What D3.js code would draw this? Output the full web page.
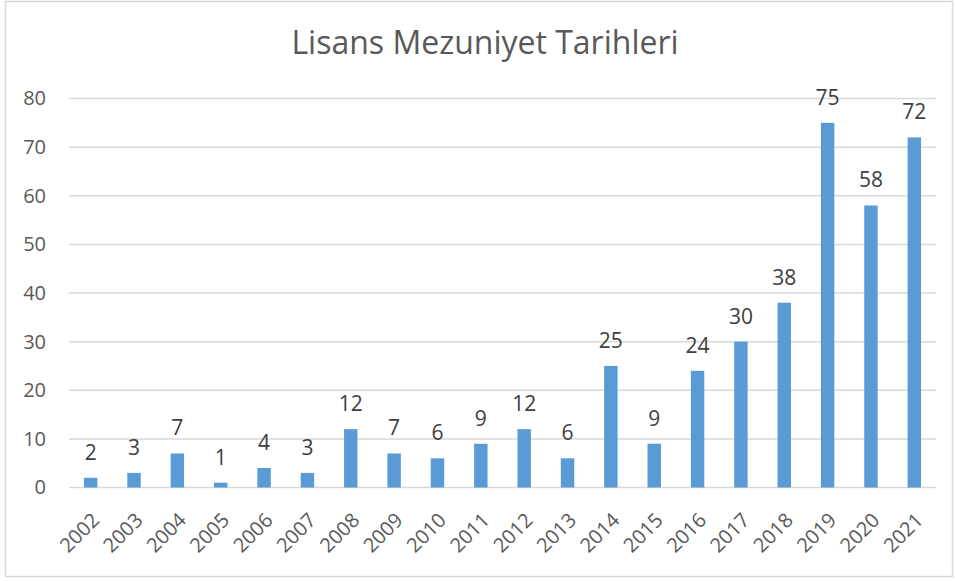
<!DOCTYPE html>
<html>
<head>
<meta charset="utf-8">
<script src="https://cdn.jsdelivr.net/npm/d3@7"></script>
<style>
  body { margin: 0; background: #fff; }
  text { font-family: "Open Sans", "Noto Sans", sans-serif; }
</style>
</head>
<body>
<div id="chart"></div>
<script>
// veriler
const years = ["2002","2003","2004","2005","2006","2007","2008","2009","2010","2011",
               "2012","2013","2014","2015","2016","2017","2018","2019","2020","2021"];
const counts = [2, 3, 7, 1, 4, 3, 12, 7, 6, 9, 12, 6, 25, 9, 24, 30, 38, 75, 58, 72];
const yTicks = [0, 10, 20, 30, 40, 50, 60, 70, 80];
const title = "Lisans Mezuniyet Tarihleri";

const W = 955, H = 581;
const margin = {top: 98.5, right: 19, bottom: 93.5, left: 69};
const width = W - margin.left - margin.right;
const height = H - margin.top - margin.bottom;

const svg = d3.select("#chart").append("svg")
    .attr("width", W)
    .attr("height", H);

// dış çerçeve
svg.append("rect")
    .attr("x", 5.5).attr("y", 1.5)
    .attr("width", W - 8).attr("height", H - 6)
    .attr("fill", "#fff")
    .attr("stroke", "#d9d9d9")
    .attr("stroke-width", 1.5);

// başlık
svg.append("text")
    .attr("x", 485)
    .attr("y", 54)
    .attr("text-anchor", "middle")
    .style("font-size", "32px")
    .style("fill", "#595959")
    .text(title);

const g = svg.append("g")
    .attr("transform", `translate(${margin.left},${margin.top})`);

const x = d3.scaleBand().domain(years).range([0, width]).paddingInner(0.69).paddingOuter(0.345);
const y = d3.scaleLinear().domain([0, 80]).range([height, 0]);

// yatay çizgiler
g.selectAll(".grid")
    .data(yTicks)
    .enter().append("line")
    .attr("x1", 0).attr("x2", width)
    .attr("y1", d => y(d)).attr("y2", d => y(d))
    .attr("stroke", "#d9d9d9")
    .attr("stroke-width", 1.5);

// y ekseni
const yAxis = g.append("g")
    .call(d3.axisLeft(y).tickValues(yTicks).tickSize(0).tickPadding(23));
yAxis.select(".domain").remove();
yAxis.selectAll("text")
    .style("font-size", "20px")
    .style("font-family", "'Open Sans', sans-serif")
    .style("fill", "#595959");

// x ekseni
const xAxis = g.append("g")
    .attr("transform", `translate(0,${height})`)
    .call(d3.axisBottom(x).tickSize(0));
xAxis.select(".domain").remove();
xAxis.selectAll("text")
    .style("font-size", "20px")
    .style("font-family", "'Open Sans', sans-serif")
    .style("fill", "#595959")
    .attr("text-anchor", "end")
    .attr("dy", "0.35em")
    .attr("transform", "translate(5,29) rotate(-45)")
    .attr("x", 0).attr("y", 0);

// çubuklar
g.selectAll(".bar")
    .data(counts)
    .enter().append("rect")
    .attr("class", "bar")
    .attr("x", (d, i) => x(years[i]))
    .attr("width", x.bandwidth())
    .attr("y", d => y(d))
    .attr("height", d => height - y(d))
    .attr("fill", "#5b9bd5");

// değer etiketleri
g.selectAll(".lbl")
    .data(counts)
    .enter().append("text")
    .attr("class", "lbl")
    .attr("x", (d, i) => x(years[i]) + x.bandwidth() / 2)
    .attr("y", d => y(d) - 18)
    .attr("text-anchor", "middle")
    .style("font-size", "21px")
    .style("fill", "#404040")
    .text(d => d);
</script>
</body>
</html>
